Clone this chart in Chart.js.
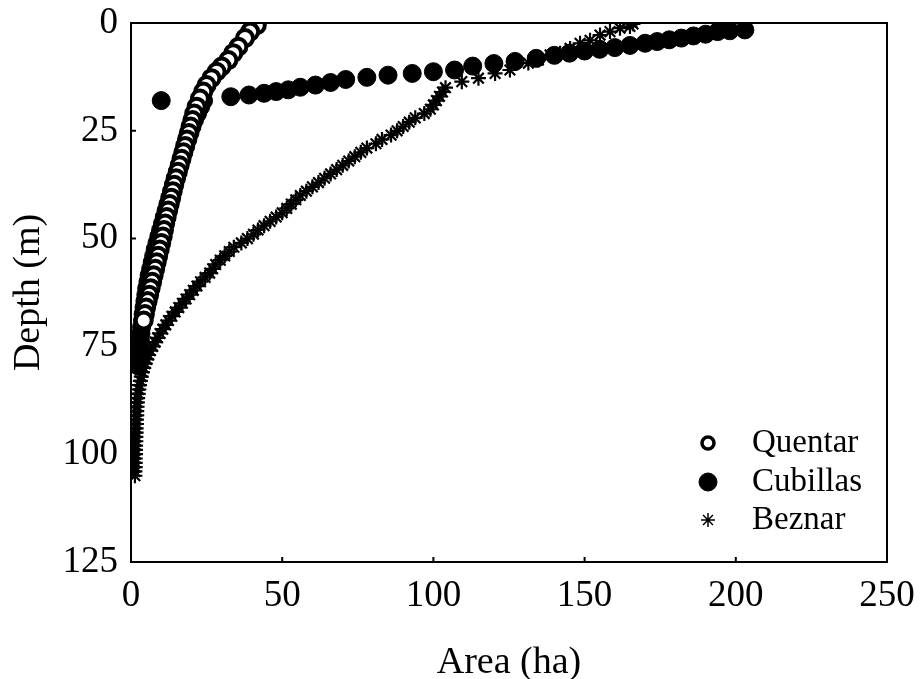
<!DOCTYPE html>
<html>
<head>
<meta charset="utf-8">
<script src="https://cdn.jsdelivr.net/npm/chart.js@4.4.1/dist/chart.umd.min.js"></script>
<style>
    html, body { margin: 0; padding: 0; background: #fff; }
</style>
</head>
<body>
<canvas id="chart_depth" width="920" height="679"></canvas>
<script>
// area (ha) against depth (m)
const quentarArea = [41.6, 39.4, 37.7, 35.5, 33.8, 32.2, 30.0, 28.3, 26.6, 25.0,
    23.9, 22.8, 21.7, 20.9, 20.3, 19.7, 19.1, 18.5, 17.9, 17.3,
    16.7, 16.1, 15.5, 14.9, 14.3, 13.8, 13.3, 12.8, 12.3, 11.8,
    11.3, 10.9, 10.5, 10.0, 9.5, 9.0, 8.5, 8.0, 7.5, 7.0,
    6.5, 6.0, 5.5, 5.0, 4.6, 4.2];
const quentarDepth = [0.5, 2.0, 3.5, 5.5, 7.0, 8.6, 10.1, 11.3, 12.8, 14.4,
    15.9, 17.5, 19.4, 21.0, 22.5, 24.0, 25.5, 27.0, 28.5, 30.0,
    31.5, 33.0, 34.5, 36.0, 37.5, 39.0, 40.5, 42.0, 43.5, 45.0,
    46.5, 48.0, 49.5, 51.0, 52.5, 54.0, 55.5, 57.0, 58.5, 60.0,
    61.5, 63.0, 64.5, 66.0, 67.5, 69.0];

const cubillasArea = [203, 198, 194, 190, 186, 182, 178, 174, 170, 165,
    160, 155, 150, 145, 140, 134, 127, 120, 113, 107,
    100, 93, 85, 78, 71, 66, 61, 56, 52, 48,
    44, 39, 33, 10,
    24, 23, 22, 21, 20.2, 19.5, 18.8, 18.1, 17.4, 16.7,
    16.0, 15.3, 14.6, 14.0, 13.4, 12.8, 12.2, 11.6, 11.0, 10.4,
    9.8, 9.2, 8.6, 8.0, 7.5, 7.0, 6.5, 6.0, 5.6, 5.2,
    4.9, 4.6, 4.3, 4.0, 3.8, 3.5, 3.3, 3.1, 2.9, 2.7, 2.5, 2.3];
const cubillasDepth = [1.6, 1.8, 2.0, 2.6, 3.0, 3.5, 3.9, 4.3, 4.7, 5.2,
    5.7, 6.1, 6.5, 7.0, 7.5, 8.2, 8.9, 9.4, 10.0, 10.9,
    11.3, 11.7, 12.1, 12.6, 13.1, 13.8, 14.4, 14.9, 15.5, 15.9,
    16.3, 16.7, 17.1, 18.0,
    18.0, 19.5, 21.0, 22.5, 24.0, 25.5, 27.0, 28.5, 30.0, 31.5,
    33.0, 34.5, 36.0, 37.5, 39.0, 40.5, 42.0, 43.5, 45.0, 46.5,
    48.0, 49.5, 51.0, 52.5, 54.0, 55.5, 57.0, 58.5, 60.0, 61.5,
    63.0, 64.5, 66.0, 67.5, 69.0, 70.5, 72.0, 73.5, 75.0, 76.5, 78.0, 79.5];

const beznarArea = [166, 165, 161.7, 158.4, 155.1, 151.8, 148.5, 145.2, 141.9, 138.6,
    134.7, 131.4, 125.3, 120.4, 114.9, 109.4,
    104, 103, 102, 101, 100, 99, 97, 94, 92, 90,
    88, 86, 83, 81, 78, 76, 74, 72, 70, 68,
    66, 64, 62, 60, 58, 56, 54.5, 53, 51.5, 50,
    48, 46, 44, 42, 40.5, 38.5, 36.5, 34, 32.5, 31,
    29.5, 28, 27, 26, 24.5, 23, 21.8, 20.6, 19.4, 18.2,
    17, 15.8, 14.6, 13.5, 12.4, 11.5, 10.5, 9.6, 8.8, 8,
    7.2, 6.4, 5.8, 5.2, 4.7, 4.2, 3.8, 3.4, 3.1, 2.8,
    2.6, 2.4, 2.2, 2.1, 2.0, 1.9, 1.9, 1.8, 1.8, 1.7,
    1.7, 1.6, 1.6, 1.5, 1.5, 1.5, 1.4, 1.4, 1.4, 1.3, 1.3];
const beznarDepth = [0.2, 0.8, 1.2, 2.0, 2.8, 4.0, 4.7, 5.9, 7.0, 7.4,
    8.6, 9.3, 10.9, 11.7, 12.8, 13.6,
    15, 16, 17, 18, 19, 20, 21, 22, 23, 24,
    25, 26, 27, 28, 29, 30, 31, 32, 33, 34,
    35, 36, 37, 38, 39, 40, 41, 42, 43, 44,
    45, 46, 47, 48, 49, 50, 51, 52, 53, 54,
    55, 56, 57, 58, 59, 60, 61, 62, 63, 64,
    65, 66, 67, 68, 69, 70, 71, 72, 73, 74,
    75, 76, 77, 78, 79, 80, 81, 82, 83, 84,
    85, 86, 87, 88, 89, 90, 91, 92, 93, 94,
    95, 96, 97, 98, 99, 100, 101, 102, 103, 104, 105];

const areaTicks = [0, 50, 100, 150, 200, 250];
const depthTicks = [0, 25, 50, 75, 100, 125];

const FONT = '"Liberation Serif", "Times New Roman", serif';

const toPoints = (xs, ys) => xs.map((x, i) => ({ x: x, y: ys[i] }));

// box round the plot, inward ticks and the legend inside the plot
const framePlugin = {
    id: 'frame',
    afterDraw(chart) {
        const ctx = chart.ctx;
        const a = chart.chartArea;
        const xs = chart.scales.x;
        const ys = chart.scales.y;
        ctx.save();
        ctx.strokeStyle = '#000';
        ctx.lineWidth = 2;
        ctx.strokeRect(a.left, a.top, a.right - a.left, a.bottom - a.top);
        ctx.beginPath();
        areaTicks.forEach(v => {
            const px = xs.getPixelForValue(v);
            ctx.moveTo(px, a.bottom);
            ctx.lineTo(px, a.bottom - 5);
        });
        depthTicks.forEach(v => {
            const py = ys.getPixelForValue(v);
            ctx.moveTo(a.left, py);
            ctx.lineTo(a.left + 5, py);
        });
        ctx.stroke();

        const items = ['Quentar', 'Cubillas', 'Beznar'].map(name =>
            chart.data.datasets.find(d => d.label === name));
        const markers = [
            { pointStyle: 'circle', radius: 6, borderWidth: 3.5, fill: '#fff' },
            { pointStyle: 'circle', radius: 9, borderWidth: 1, fill: '#000' },
            { pointStyle: 'star', radius: 7, borderWidth: 1.5, fill: '#000' }
        ];
        const rowY = [443, 482, 520];
        ctx.font = '33px ' + FONT;
        ctx.textBaseline = 'middle';
        ctx.textAlign = 'left';
        items.forEach((ds, i) => {
            const m = markers[i];
            ctx.fillStyle = m.fill;
            ctx.strokeStyle = '#000';
            ctx.lineWidth = m.borderWidth;
            Chart.helpers.drawPoint(ctx, { pointStyle: m.pointStyle, radius: m.radius, borderWidth: m.borderWidth, rotation: 0 }, 708, rowY[i]);
            ctx.fillStyle = '#000';
            ctx.fillText(ds.label, 752, rowY[i]);
        });
        ctx.restore();
    }
};

new Chart(document.getElementById('chart_depth'), {
    type: 'scatter',
    data: {
        datasets: [
            {
                label: 'Beznar',
                data: toPoints(beznarArea, beznarDepth),
                pointStyle: 'star',
                pointRadius: 7.5,
                pointBorderWidth: 2.2,
                borderColor: '#000',
                backgroundColor: '#000',
                clip: 0
            },
            {
                label: 'Quentar',
                data: toPoints(quentarArea, quentarDepth),
                pointStyle: 'circle',
                pointRadius: 8,
                pointBorderWidth: 4,
                borderColor: '#000',
                backgroundColor: '#fff',
                clip: 0
            },
            {
                label: 'Cubillas',
                data: toPoints(cubillasArea, cubillasDepth),
                pointStyle: 'circle',
                pointRadius: 9,
                pointBorderWidth: 1,
                borderColor: '#000',
                backgroundColor: '#000',
                clip: 0
            }
        ]
    },
    options: {
        responsive: false,
        animation: false,
        events: [],
        layout: { padding: { top: 23, right: 33, left: 0, bottom: 0 } },
        plugins: {
            legend: { display: false },
            tooltip: { enabled: false }
        },
        scales: {
            x: {
                type: 'linear',
                min: 0,
                max: 250,
                afterBuildTicks: s => { s.ticks = areaTicks.map(v => ({ value: v })); },
                afterFit: s => { s.height = 117; },
                ticks: { color: '#000', padding: 5, maxRotation: 0, font: { size: 37, family: FONT, lineHeight: 1.57 } },
                grid: { display: false, drawTicks: false },
                border: { display: false },
                title: {
                    display: true,
                    text: 'Area (ha)',
                    color: '#000',
                    font: { size: 38, family: FONT, lineHeight: 0.84 },
                    padding: { top: 0, bottom: 0 }
                }
            },
            y: {
                type: 'linear',
                min: 0,
                max: 125,
                reverse: true,
                afterBuildTicks: s => { s.ticks = depthTicks.map(v => ({ value: v })); },
                afterFit: s => { s.width = 131; },
                ticks: { color: '#000', padding: 13, font: { size: 37, family: FONT, lineHeight: 0.5 } },
                grid: { display: false, drawTicks: false },
                border: { display: false },
                title: {
                    display: true,
                    text: 'Depth (m)',
                    color: '#000',
                    font: { size: 38, family: FONT, lineHeight: 1 },
                    padding: { top: 10, bottom: 0 }
                }
            }
        }
    },
    plugins: [framePlugin]
});
</script>
</body>
</html>
